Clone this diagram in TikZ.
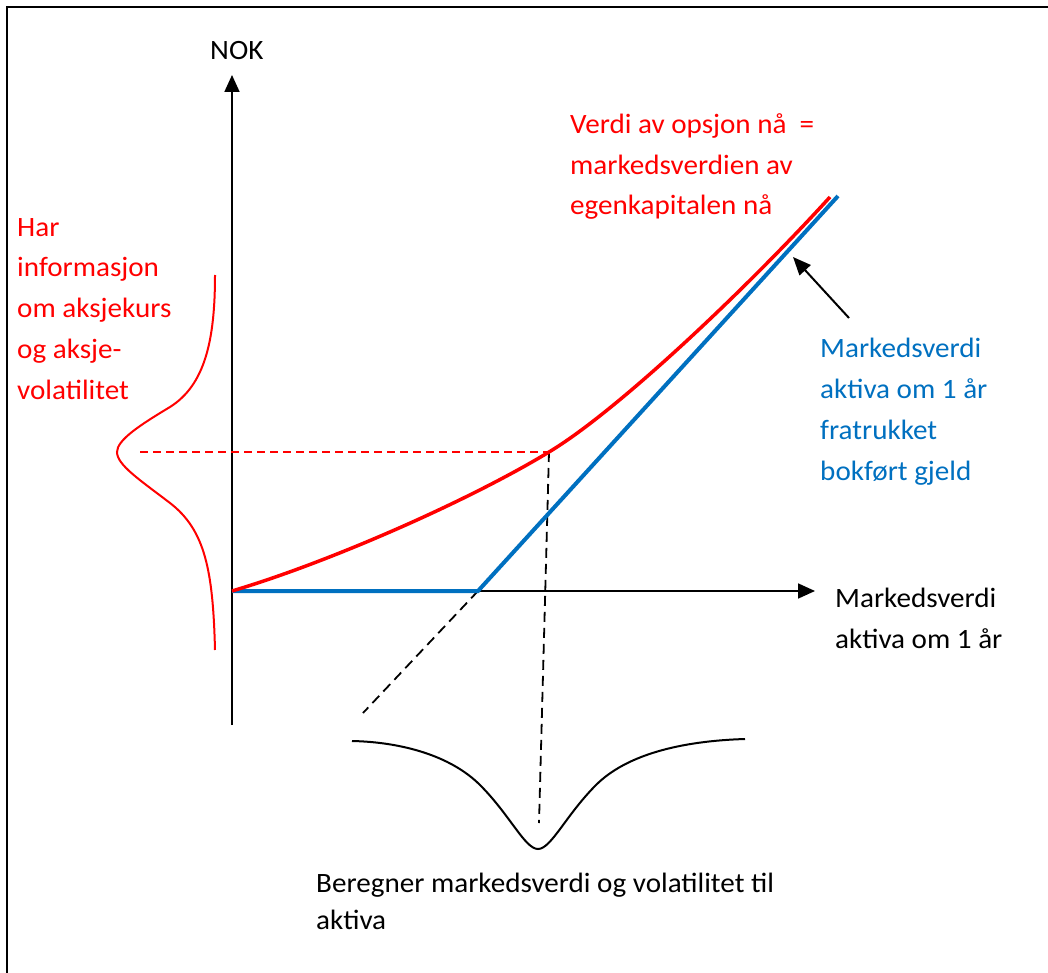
\documentclass[tikz,border=0pt]{standalone}
\usepackage{fontspec}
\setmainfont{Carlito}[FakeStretch=1.04]
\usetikzlibrary{arrows.meta}
\definecolor{offblue}{RGB}{0,112,192}
\definecolor{offred}{RGB}{255,0,0}
\begin{document}
\begin{tikzpicture}[x=1pt,y=-1pt,
  txt/.style={anchor=base west, inner sep=0pt, align=left, font=\fontsize{28}{40.7}\selectfont},
  axis/.style={line width=1.8pt, black, -{Triangle[length=17pt,width=15pt]}},
  redcurve/.style={line width=3.5pt, offred},
  bluecurve/.style={line width=4pt, offblue},
  reddash/.style={line width=1.6pt, offred, dash pattern=on 8pt off 5pt},
  blackdash/.style={line width=1.8pt, black, dash pattern=on 10pt off 6pt},
  bell/.style={line width=2pt}]
\useasboundingbox (0,0) rectangle (1048,973);
% frame
\draw[line width=2pt] (7,973) -- (7,7) -- (1048,7);
% coordinates
\coordinate (O) at (232,591);
\coordinate (ybot) at (232,725);
\coordinate (ytop) at (232,75);
\coordinate (xend) at (815,591);
\coordinate (kink) at (478,591);
\coordinate (bluetop) at (838,196);
\coordinate (P) at (549,452);
\coordinate (redtop) at (830,197);
\coordinate (redleft) at (140,452);
\coordinate (vbot) at (539,823);
\coordinate (dext) at (363,713);
\coordinate (arrtail) at (849,318);
\coordinate (arrtip) at (793,257);
% axes
\draw[axis] (ybot) -- (ytop);
\draw[axis] (O) -- (xend);
% dashed helpers
\draw[blackdash] (kink) -- (dext);
\draw[blackdash] (P) -- (vbot);
\draw[reddash] (redleft) -- (P);
% blue payoff
\draw[bluecurve] (O) -- (kink) -- (bluetop);
% red value curve
\draw[redcurve] (O) .. controls (330,562) and (470,500) .. (P)
                    .. controls (619,410) and (750,285) .. (redtop);
% left red distribution
\draw[bell, offred] (215,275) .. controls (215,340) and (205,385) .. (170,407)
                    .. controls (140,425) and (117,440) .. (117,452)
                    .. controls (117,465) and (140,480) .. (170,503)
                    .. controls (205,530) and (213,570) .. (215,650);
% bottom black distribution
\draw[bell, black] (352,741) .. controls (400,742) and (450,755) .. (480,785)
                   .. controls (510,815) and (525,849) .. (538,849)
                   .. controls (551,849) and (566,815) .. (596,785)
                   .. controls (626,755) and (680,741) .. (745,739);
% pointer arrow
\draw[line width=2pt, -{Triangle[length=18pt,width=15pt]}] (arrtail) -- (arrtip);
% texts
\node[txt] (nok) at (210,60) {NOK};
\node[txt, text=offred] (har) at (17,399) {Har\\informasjon\\om aksjekurs\\og aksje-\\volatilitet};
\node[txt, text=offred] (verdi) at (570,215) {Verdi av opsjon nå\ \ =\\markedsverdien av\\egenkapitalen nå};
\node[txt, text=offblue] (mvblue) at (820,480) {Markedsverdi\\aktiva om 1 år\\fratrukket\\bokført gjeld};
\node[txt] (xlabel) at (835,648) {Markedsverdi\\aktiva om 1 år};
\node[txt, font=\fontsize{28}{37}\selectfont] (bottom) at (316,929) {Beregner markedsverdi og volatilitet til\\aktiva};
\end{tikzpicture}
\end{document}
